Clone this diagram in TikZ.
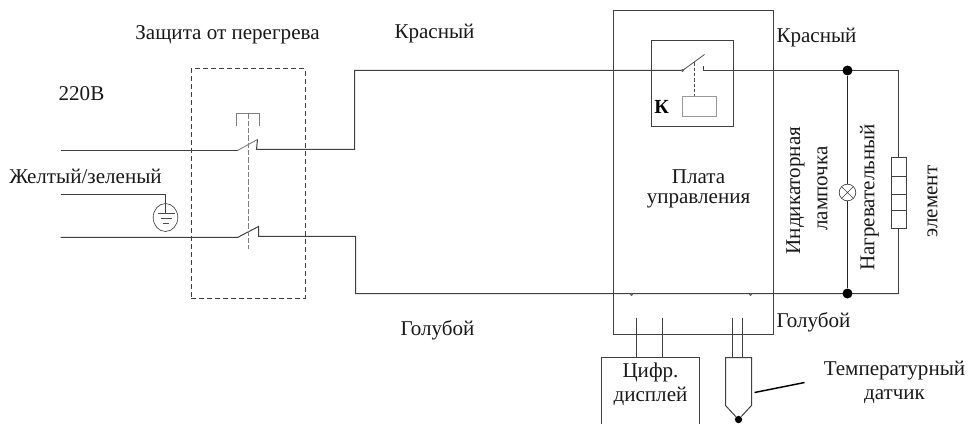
\documentclass[tikz,border=0pt]{standalone}
\usepackage{fontspec}
\setmainfont{Liberation Serif}
\usetikzlibrary{calc,shapes.geometric}
\tikzset{
 wire/.style={draw=black!75,line width=0.75pt},
 thin wire/.style={draw=black!70,line width=0.6pt},
 gray wire/.style={draw=black!50,line width=0.7pt},
 dash box/.style={draw=black!75,line width=0.65pt,dash pattern=on 4pt off 2pt},
 lbl/.style={font=\fontsize{15.8pt}{18pt}\selectfont,text=black!90,inner sep=0pt,align=center},
 dot/.style={circle,fill=black,inner sep=0pt,minimum size=7.5pt},
 tiny dot/.style={circle,fill=black!60,inner sep=0pt,minimum size=2.4pt},
 box/.style={draw=black!75,line width=0.75pt,inner sep=0pt}
}
\begin{document}
\begin{tikzpicture}[x=0.75pt,y=-0.75pt]
\useasboundingbox (0,0) rectangle (968,424);
\begin{scope}[shift={(0.5,0.5)}]
% named points
\coordinate (L1) at (60,150); \coordinate (S1a) at (237,150); \coordinate (S1b) at (257,139);
\coordinate (S1c) at (256,149); \coordinate (C1) at (354,149); \coordinate (C2) at (354,70);
\coordinate (L2) at (60,237); \coordinate (S2a) at (237,237); \coordinate (S2b) at (258,226);
\coordinate (S2c) at (258,236); \coordinate (C3) at (355,236); \coordinate (C4) at (355,293);
\coordinate (G1) at (60,194); \coordinate (G2) at (165,194); \coordinate (G3) at (165,213);
\coordinate (RA) at (682,70); \coordinate (RB) at (704,54); \coordinate (RC) at (703,66); \coordinate (RD) at (703,70);
\coordinate (TR) at (898,70); \coordinate (BR) at (898,293);
% boxes
\node[box,minimum width=120pt,minimum height=242.25pt,anchor=north west] (board) at (612,10) {};
\node[box,minimum width=61.5pt,minimum height=64.5pt,anchor=north west] (relay) at (650,40) {};
\node[draw=black!40,line width=0.6pt,inner sep=0pt,minimum width=25.5pt,minimum height=15pt,anchor=north west] (coil) at (681,96) {};
\node[dash box,inner sep=0pt,minimum width=85.5pt,minimum height=171.75pt,anchor=north west] (prot) at (190,68) {};
% left switches
\draw[wire] (L1) -- (S1a);
\draw[gray wire] (S1a) -- (S1b);
\draw[wire] (S1b) -- (S1c) -- (C1) -- (C2) -- (RA);
\draw[wire] (L2) -- (S2a) -- (S2b) -- (S2c) -- (C3) -- (C4) -- (BR);
% mechanical link
\coordinate (M1) at (248,113); \coordinate (M2) at (248,249);
\coordinate (B1) at (236,126); \coordinate (B2) at (236,113); \coordinate (B3) at (259,113); \coordinate (B4) at (259,126);
\draw[gray wire,line width=0.8pt,dash pattern=on 4pt off 1.5pt] (M1) -- (M2);
\draw[gray wire] (B1) -- (B2) -- (B3) -- (B4);
% ground
\node[draw=black!75,line width=0.5pt,ellipse,inner sep=0pt,minimum width=18.5pt,minimum height=21pt] (gnd) at (165,217) {};
\draw[wire] (G1) -- (G2) -- (G3);
\coordinate (g1l) at (157,213); \coordinate (g1r) at (174,213);
\coordinate (g2l) at (160,218); \coordinate (g2r) at (171,218);
\coordinate (g3l) at (162,223); \coordinate (g3r) at (168,223);
\draw[thin wire] (g1l) -- (g1r) (g2l) -- (g2r) (g3l) -- (g3r);
% relay
\coordinate (D1) at (693.5,62); \coordinate (D2) at (693.5,96);
\draw[thin wire] (RA) -- (RB);
\draw[thin wire,dashed,dash pattern=on 2.5pt off 1.5pt] (D1) -- (D2);
\draw[wire] (RC) -- (RD) -- (TR);
\node[tiny dot] (rdot) at (RA) {};
\node[font=\bfseries\fontsize{15pt}{17pt}\selectfont,inner sep=0pt] (k) at (661,106) {К};
% right side
\node[dot] (j1) at (847,70) {};
\node[dot] (j2) at (847,293) {};
\node[draw=black!75,fill=white,line width=0.5pt,circle,inner sep=0pt,minimum size=12.5pt,
  path picture={\draw[black!75,line width=0.45pt] (path picture bounding box.south west) -- (path picture bounding box.north east) (path picture bounding box.north west) -- (path picture bounding box.south east);}] (lamp) at (847,192) {};
\draw[wire,draw=black!85] (j1) -- (lamp) -- (j2);
\node[box,minimum width=11.25pt,minimum height=53.25pt,anchor=north west] (heat) at (890,157) {};
\coordinate (d1l) at (890,176); \coordinate (d1r) at (905,176);
\coordinate (d2l) at (890,194); \coordinate (d2r) at (905,194);
\coordinate (d3l) at (890,210); \coordinate (d3r) at (905,210);
\draw[wire] (d1l) -- (d1r) (d2l) -- (d2r) (d3l) -- (d3r);
\draw[wire] (TR) -- (heat.north -| TR);
\draw[wire] (heat.south -| BR) -- (BR);
\node[tiny dot] (bd1) at (631,294) {};
\node[tiny dot] (bd2) at (750,294) {};
% bottom
\coordinate (w1) at (636,317); \coordinate (w2) at (662,317); \coordinate (w3) at (732,317); \coordinate (w4) at (742,317);
\coordinate (w1b) at (636,357); \coordinate (w2b) at (662,357); \coordinate (w3b) at (732,357); \coordinate (w4b) at (742,357);
\draw[wire] (w1) -- (w1b) (w2) -- (w2b) (w3) -- (w3b) (w4) -- (w4b);
\coordinate (dA) at (601,424); \coordinate (dB) at (601,357); \coordinate (dC) at (699,357); \coordinate (dD) at (699,424);
\draw[wire] (dA) -- (dB) -- (dC) -- (dD);
\node[dot,minimum size=5.5pt] (tip) at (738,419) {};
\coordinate (sA) at (725,357); \coordinate (sB) at (751,357); \coordinate (sC) at (751,405); \coordinate (sD) at (725,405);
\draw[wire] (tip) -- (sD) -- (sA) -- (sB) -- (sC) -- (tip);
\coordinate (lead1) at (754,392); \coordinate (lead2) at (804,382);
\draw[black,line width=1.1pt] (lead1) -- (lead2);
% labels
\node[lbl] (t1) at (227,34) {Защита от перегрева};
\node[lbl] (t2) at (434,33) {Красный};
\node[lbl] (t3) at (81,93) {220В};
\node[lbl] (t4) at (85,176) {Желтый/зеленый};
\node[lbl] (t5) at (437,330) {Голубой};
\node[lbl] (t6) at (816,37) {Красный};
\node[lbl] (t7) at (813,322) {Голубой};
\node[lbl] (t8) at (698,176) {Плата};
\node[lbl] (t9) at (698,200) {управления};
\node[lbl,rotate=90] (t10) at (795,190) {Индикаторная};
\node[lbl,rotate=90] (t11) at (822,188) {лампочка};
\node[lbl,rotate=90] (t12) at (869,197) {Нагревательный};
\node[lbl,rotate=90] (t13) at (932,201) {элемент};
\node[lbl] (t14) at (650,372) {Цифр.};
\node[lbl] (t15) at (650,396) {дисплей};
\node[lbl] (t16) at (894,370) {Температурный};
\node[lbl] (t17) at (894,396) {датчик};
\end{scope}
\end{tikzpicture}
\end{document}
